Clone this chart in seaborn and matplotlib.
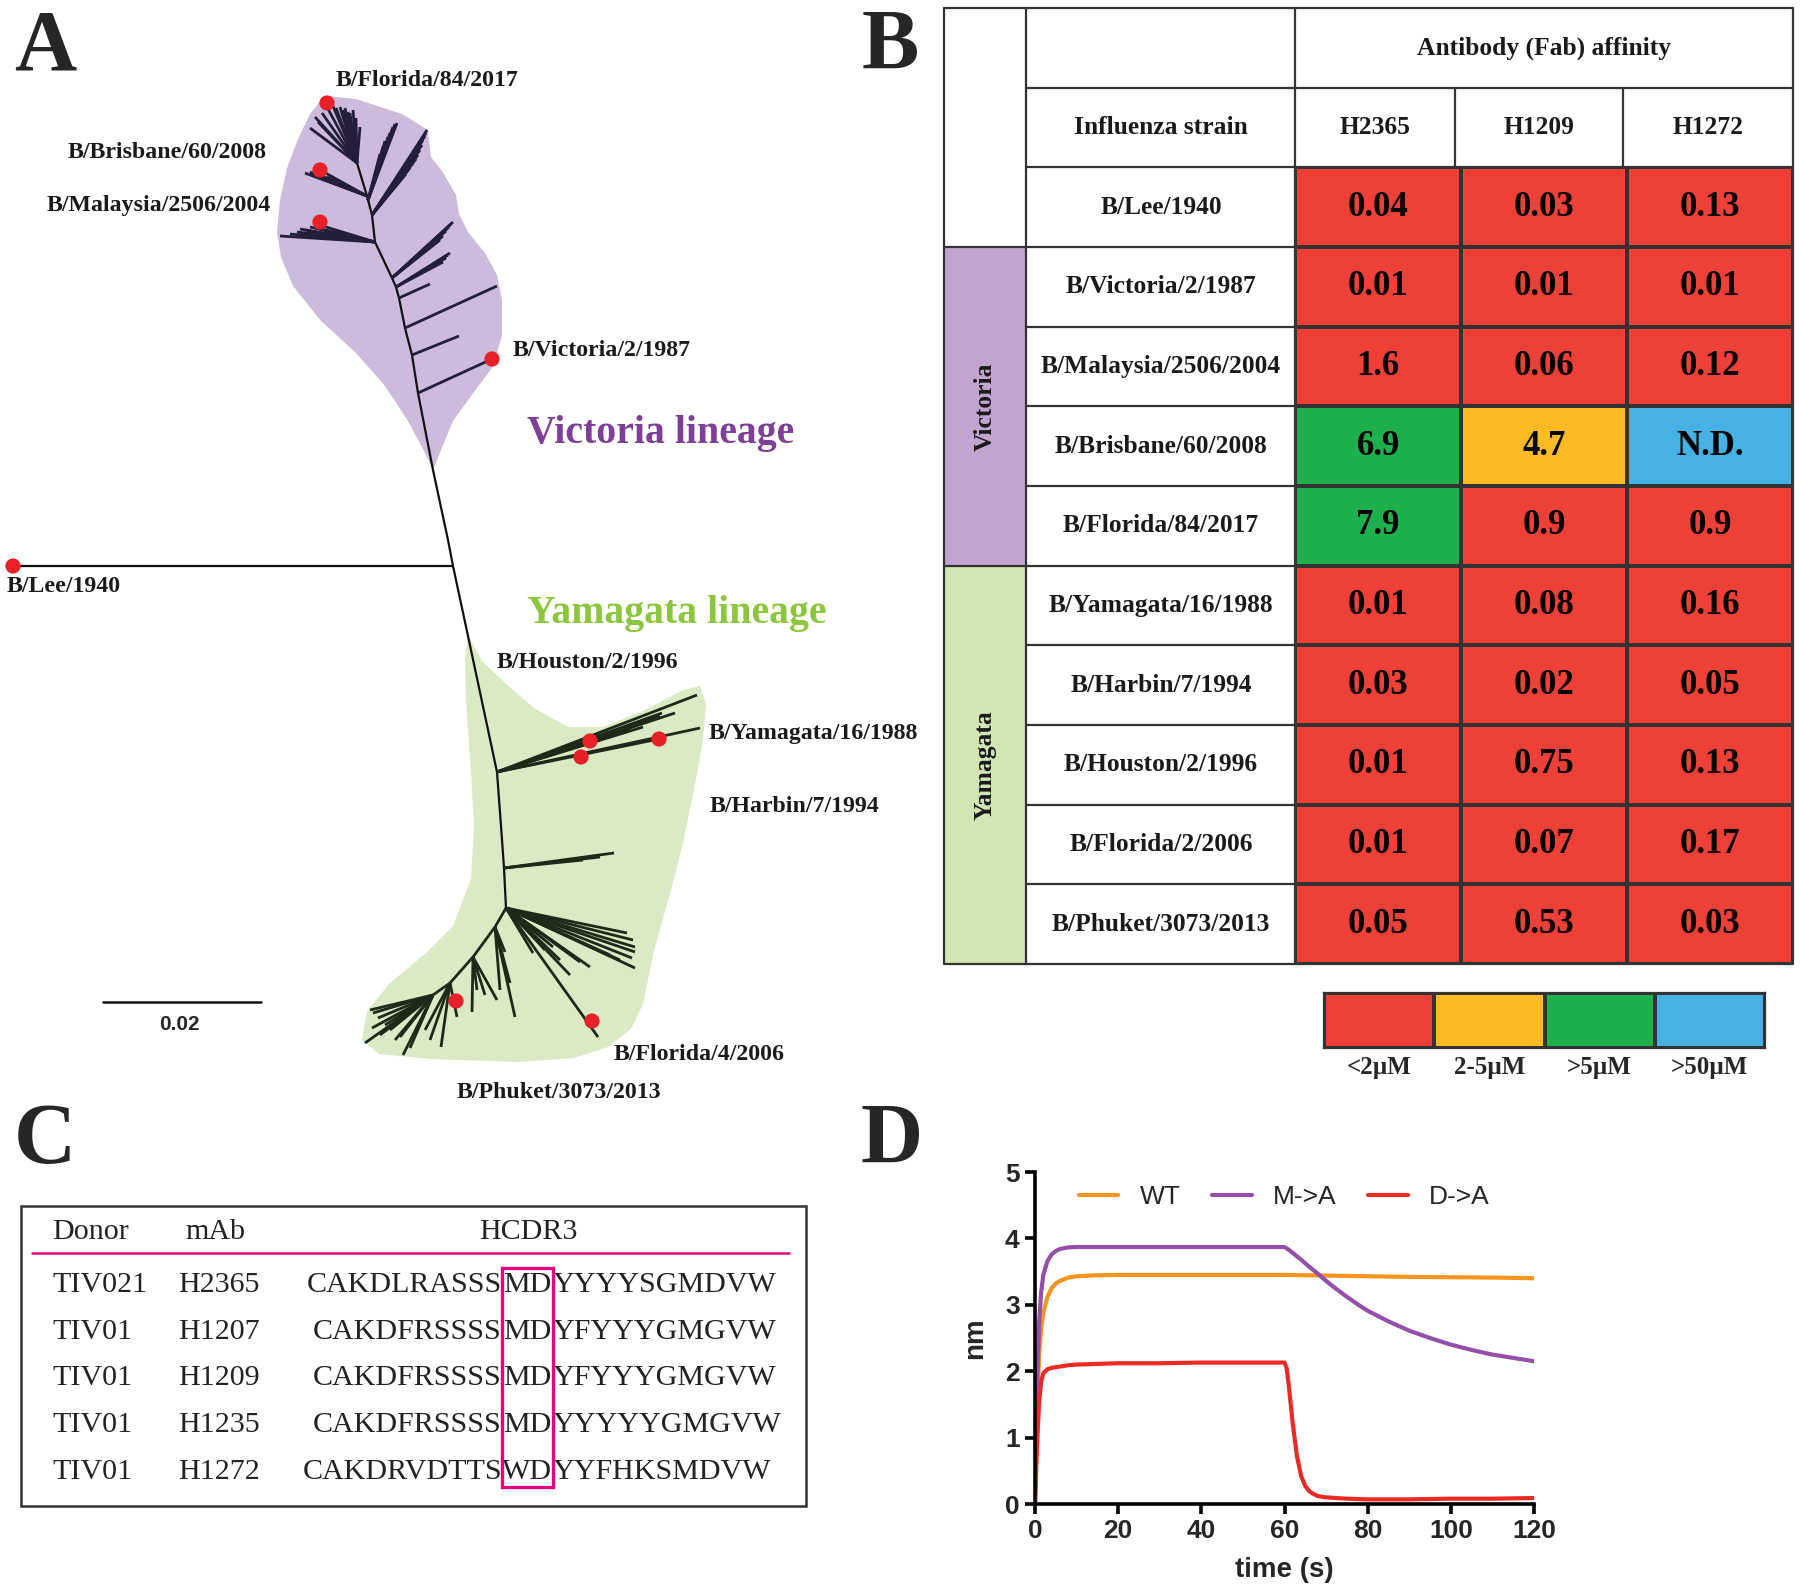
import numpy as np
import pandas as pd
import matplotlib
matplotlib.use("Agg")
import matplotlib.pyplot as plt
import seaborn as sns
from matplotlib.collections import LineCollection
from matplotlib.colors import ListedColormap
from matplotlib.patches import Polygon, Rectangle

# ---------------- data ----------------
# Panel A: tree (figure pixel coordinates of the drawing)
trunk_vic = [(453, 566), (448, 540), (433, 470), (418, 393), (412, 355), (405, 328), (399, 298),
             (396, 287), (392, 278), (375, 242), (372, 215), (367, 196), (357, 163)]
trunk_yam = [(453, 566), (468, 636), (497, 772), (501, 826), (504, 868), (506, 908)]
lee_branch = [(453, 566), (13, 566)]
yam_arm = [(506, 908), (495, 927), (473, 957), (450, 983), (433, 995), (370, 1010)]
vic_fans = [
    ((418, 393), [(492, 359)]),
    ((412, 355), [(459, 336)]),
    ((405, 328), [(497, 286)]),
    ((399, 298), [(430, 284)]),
    ((396, 287), [(450, 253), (448, 255), (446, 258), (443, 262)]),
    ((392, 278), [(453, 222), (451, 224), (449, 227), (446, 231), (443, 236), (440, 240)]),
    ((375, 242), [(280, 236), (290, 234), (297, 232), (300, 229), (305, 230), (310, 227), (313, 223),
                  (316, 228), (320, 229), (325, 231), (330, 233), (335, 236), (300, 234), (308, 232)]),
    ((372, 215), [(427, 130), (426, 133), (425, 136), (423, 140), (422, 145), (420, 150), (418, 155),
                  (416, 159), (413, 163), (410, 168), (406, 174)]),
    ((367, 196), [(305, 173), (310, 172), (315, 174), (320, 170), (322, 176), (327, 177), (332, 180),
                  (337, 182), (312, 175)]),
    ((368, 200), [(397, 123), (395, 124), (393, 127), (392, 130), (390, 133), (388, 137), (385, 141),
                  (383, 147), (380, 154)]),
    ((357, 163), [(310, 128), (315, 117), (318, 122), (322, 113), (327, 107), (333, 106), (336, 108),
                  (340, 107), (343, 110), (345, 108), (348, 112), (350, 113), (353, 110), (356, 118), (360, 127)]),
]
yam_fans = [
    ((497, 772), [(697, 695), (700, 728), (662, 713), (660, 716), (655, 718), (643, 727), (630, 730),
                  (659, 739), (675, 713)]),
    ((504, 868), [(614, 853), (583, 860), (600, 857)]),
    ((433, 995), [(373, 1013), (365, 1043), (403, 1055), (400, 1037), (420, 1023), (378, 1018),
                  (385, 1025), (390, 1030), (395, 1040), (410, 1048), (380, 1035), (372, 1028)]),
    ((450, 983), [(441, 1047), (457, 1017), (430, 1040), (425, 1030)]),
    ((473, 957), [(472, 1012), (477, 990), (485, 995), (497, 1000)]),
    ((495, 927), [(505, 952), (510, 983), (515, 1017), (500, 990)]),
    ((506, 908), [(627, 933), (633, 940), (635, 947), (635, 952), (632, 958), (635, 968), (620, 960),
                  (610, 955), (590, 967), (580, 962), (598, 1037), (553, 947), (533, 953), (560, 960),
                  (570, 975), (545, 950)]),
]
vic_blob = [(327, 96), (356, 99), (402, 114), (428, 130), (431, 157), (442, 171), (456, 195), (459, 214),
            (468, 232), (485, 253), (497, 275), (502, 300), (502, 336), (492, 368), (471, 396), (453, 421),
            (441, 450), (433, 470), (425, 453), (408, 421), (385, 386), (356, 353), (321, 321), (293, 286),
            (281, 257), (277, 232), (280, 200), (287, 168), (298, 139), (310, 114), (321, 100)]
yam_blob = [(468, 635), (482, 661), (505, 683), (534, 708), (568, 727), (603, 727), (643, 711), (683, 690),
            (700, 686), (706, 704), (703, 740), (694, 790), (683, 843), (671, 890), (654, 951), (643, 1004),
            (631, 1029), (608, 1047), (574, 1058), (517, 1062), (431, 1059), (379, 1054), (362, 1040),
            (367, 1011), (390, 983), (425, 954), (453, 926), (471, 879), (474, 826), (471, 772), (466, 701), (465, 658)]
dot_x = [327, 320, 320, 492, 13, 590, 581, 659, 456, 592]
dot_y = [103, 170, 222, 359, 566, 741, 757, 739, 1001, 1021]

# Panel B: affinity table
strains = ["B/Lee/1940", "B/Victoria/2/1987", "B/Malaysia/2506/2004", "B/Brisbane/60/2008",
           "B/Florida/84/2017", "B/Yamagata/16/1988", "B/Harbin/7/1994", "B/Houston/2/1996",
           "B/Florida/2/2006", "B/Phuket/3073/2013"]
antibodies = ["H2365", "H1209", "H1272"]
H2365 = ["0.04", "0.01", "1.6", "6.9", "7.9", "0.01", "0.03", "0.01", "0.01", "0.05"]
H1209 = ["0.03", "0.01", "0.06", "4.7", "0.9", "0.08", "0.02", "0.75", "0.07", "0.53"]
H1272 = ["0.13", "0.01", "0.12", "N.D.", "0.9", "0.16", "0.05", "0.13", "0.17", "0.03"]
legend_labels = ["<2µM", "2-5µM", ">5µM", ">50µM"]

# Panel C: HCDR3 sequences
donors = ["TIV021", "TIV01", "TIV01", "TIV01", "TIV01"]
mabs = ["H2365", "H1207", "H1209", "H1235", "H1272"]
seq_pre = ["CAKDLRASSS", "CAKDFRSSSS", "CAKDFRSSSS", "CAKDFRSSSS", "CAKDRVDTTS"]
seq_mid = ["MD", "MD", "MD", "MD", "WD"]
seq_post = ["YYYYSGMDVW", "YFYYYGMGVW", "YFYYYGMGVW", "YYYYYGMGVW", "YYFHKSMDVW"]

# Panel D: BLI kinetics
t_wt = [0, 0.5, 1, 1.5, 2, 3, 4, 5, 6, 8, 10, 15, 20, 30, 40, 50, 60, 70, 80, 90, 100, 110, 120]
y_wt = [0, 1.45, 2.25, 2.65, 2.88, 3.12, 3.25, 3.32, 3.36, 3.41, 3.43, 3.445, 3.45, 3.45, 3.45, 3.45,
        3.45, 3.44, 3.43, 3.42, 3.415, 3.41, 3.40]
t_ma = [0, 0.5, 1, 1.5, 2, 3, 4, 5, 6, 8, 10, 20, 40, 60, 61, 62, 64, 66, 68, 70, 72, 75, 78, 80,
        85, 90, 95, 100, 105, 110, 115, 120]
y_ma = [0, 1.8, 2.75, 3.2, 3.45, 3.66, 3.76, 3.81, 3.84, 3.865, 3.87, 3.87, 3.87, 3.87, 3.83, 3.78,
        3.68, 3.57, 3.47, 3.36, 3.26, 3.12, 2.99, 2.91, 2.75, 2.61, 2.50, 2.40, 2.32, 2.25, 2.20, 2.15]
t_da = [0, 0.5, 1, 1.5, 2, 3, 4, 6, 8, 10, 15, 20, 30, 40, 50, 60, 60.5, 61, 61.5, 62, 63, 64, 65,
        66, 67, 68, 70, 75, 80, 90, 100, 110, 120]
y_da = [0, 0.9, 1.55, 1.85, 1.97, 2.03, 2.05, 2.07, 2.09, 2.10, 2.11, 2.12, 2.12, 2.13, 2.13, 2.13,
        2.05, 1.8, 1.5, 1.2, 0.72, 0.42, 0.27, 0.19, 0.15, 0.12, 0.10, 0.08, 0.07, 0.07, 0.08, 0.08, 0.09]

# ---------------- styling ----------------
sns.set_style("white")
SERIF = ["Liberation Serif", "DejaVu Serif"]
SANS = ["Liberation Sans Narrow", "Liberation Sans", "DejaVu Sans"]
plt.rcParams["font.family"] = SERIF

W, H = 1800, 1593
fig = plt.figure(figsize=(9, 7.965), dpi=200)
bg = fig.add_axes([0, 0, 1, 1])

# ---------------- Panel A ----------------
bg.add_patch(Polygon(vic_blob, closed=True, facecolor="#CDBBDD", edgecolor="none", zorder=1))
bg.add_patch(Polygon(yam_blob, closed=True, facecolor="#DAEAC5", edgecolor="none", zorder=1))

def fan_segments(fans):
    segs = []
    for hub, tips in fans:
        for tp in tips:
            segs.append([hub, tp])
    return segs

bg.add_collection(LineCollection([trunk_vic, trunk_yam, lee_branch], colors="#111111",
                                 linewidths=0.8, zorder=2))
bg.add_collection(LineCollection(fan_segments(vic_fans), colors="#231F3A", linewidths=1.0, zorder=2))
bg.add_collection(LineCollection([yam_arm] + fan_segments(yam_fans), colors="#1E2A18",
                                 linewidths=1.0, zorder=2))
sns.scatterplot(x=dot_x, y=dot_y, ax=bg, color="#E8202A", s=30, edgecolor="none", zorder=5)

lab_kw = dict(fontsize=8.6, fontweight="bold", family=SERIF, color="#1a1a1a", va="center")
bg.text(336, 81, "B/Florida/84/2017", ha="left", **lab_kw)
bg.text(267, 152, "B/Brisbane/60/2008", ha="right", **lab_kw)
bg.text(271, 205, "B/Malaysia/2506/2004", ha="right", **lab_kw)
bg.text(513, 351, "B/Victoria/2/1987", ha="left", **lab_kw)
bg.text(7, 586, "B/Lee/1940", ha="left", **lab_kw)
bg.text(497, 662, "B/Houston/2/1996", ha="left", **lab_kw)
bg.text(709, 733, "B/Yamagata/16/1988", ha="left", **lab_kw)
bg.text(710, 807, "B/Harbin/7/1994", ha="left", **lab_kw)
bg.text(614, 1054, "B/Florida/4/2006", ha="left", **lab_kw)
bg.text(457, 1093, "B/Phuket/3073/2013", ha="left", **lab_kw)
bg.text(661, 434, "Victoria lineage", ha="center", va="center", fontsize=14.3, fontweight="bold",
        color="#7E3F98", family=SERIF)
bg.text(677, 613, "Yamagata lineage", ha="center", va="center", fontsize=14.3, fontweight="bold",
        color="#8CC63F", family=SERIF)
bg.plot([103, 261], [1002, 1002], color="#111111", lw=0.9)
bg.text(179, 1025, "0.02", ha="center", va="center", fontsize=7.5, fontweight="bold",
        family=["Liberation Sans", "DejaVu Sans"])

# panel letters
for lx, ly, L in [(14, 70, "A"), (862, 69, "B"), (14, 1163, "C"), (860, 1163, "D")]:
    bg.text(lx, ly, L, ha="left", va="baseline", fontsize=31, fontweight="bold", family=SERIF)

# ---------------- Panel B ----------------
def category(v):
    if v == "N.D.":
        return 3
    f = float(v)
    if f < 2:
        return 0
    if f <= 5:
        return 1
    return 2

labels = np.array([H2365, H1209, H1272]).T
cats = np.vectorize(category)(labels).astype(float)
cmap = ListedColormap(["#EE4037", "#FDBB23", "#1EB04C", "#46B2E4"])
table_df = pd.DataFrame(cats, index=strains, columns=antibodies)

tx0, tx1, ty0, ty1 = 944, 1793, 8, 964
cx = [944, 1026, 1295, 1455, 1623, 1793]
ry = [ty0 + k * (ty1 - ty0) / 12 for k in range(13)]

axh = fig.add_axes([1295 / W, 1 - ry[12] / H, (1793 - 1295) / W, (ry[12] - ry[2]) / H])
sns.heatmap(table_df, annot=labels, fmt="", cmap=cmap, vmin=-0.5, vmax=3.5, cbar=False,
            linewidths=0.8, linecolor="#333333", xticklabels=False, yticklabels=False, ax=axh,
            annot_kws=dict(fontsize=12.5, fontweight="bold", family=SERIF, color="black"))
axh.set_xlabel("")
axh.set_ylabel("")

bg.add_patch(Rectangle((944, ry[3]), 1026 - 944, ry[7] - ry[3], facecolor="#C2A4D0", edgecolor="none", zorder=1))
bg.add_patch(Rectangle((944, ry[7]), 1026 - 944, ry[12] - ry[7], facecolor="#D1E6B4", edgecolor="none", zorder=1))
line_kw = dict(color="#333333", lw=0.8, zorder=3)
bg.plot([tx0, tx1, tx1, tx0, tx0], [ty0, ty0, ty1, ty1, ty0], **line_kw)
bg.plot([1026, 1026], [ty0, ty1], **line_kw)
bg.plot([1295, 1295], [ty0, ty1], **line_kw)
bg.plot([1455, 1455], [ry[1], ty1], **line_kw)
bg.plot([1623, 1623], [ry[1], ty1], **line_kw)
bg.plot([1026, tx1], [ry[1], ry[1]], **line_kw)
for k in range(2, 12):
    x0 = 944 if k in (3, 7) else 1026
    bg.plot([x0, tx1], [ry[k], ry[k]], **line_kw)

hdr_kw = dict(fontsize=9.2, fontweight="bold", family=SERIF, ha="center", va="center", color="#1a1a1a")
bg.text(1544, (ry[0] + ry[1]) / 2, "Antibody (Fab) affinity", **hdr_kw)
bg.text(1161, (ry[1] + ry[2]) / 2, "Influenza strain", **hdr_kw)
for i, ab in enumerate(antibodies):
    bg.text((cx[i + 2] + cx[i + 3]) / 2, (ry[1] + ry[2]) / 2, ab, **hdr_kw)
for i, s in enumerate(strains):
    bg.text(1161, (ry[i + 2] + ry[i + 3]) / 2, s, **hdr_kw)
bg.text(985, (ry[3] + ry[7]) / 2, "Victoria", rotation=90, **hdr_kw)
bg.text(985, (ry[7] + ry[12]) / 2, "Yamagata", rotation=90, **hdr_kw)

# legend strip
axl = fig.add_axes([1324 / W, 1 - 1048 / H, (1765 - 1324) / W, 55 / H])
leg_df = pd.DataFrame([[0, 1, 2, 3]], columns=legend_labels)
sns.heatmap(leg_df, cmap=cmap, vmin=-0.5, vmax=3.5, cbar=False, linewidths=0.8,
            linecolor="#333333", yticklabels=False, ax=axl)
for sp in axl.spines.values():
    sp.set_visible(True)
    sp.set_color("#333333")
    sp.set_linewidth(0.8)
axl.tick_params(axis="x", length=0, pad=3, labelrotation=0)
for tl in axl.get_xticklabels():
    tl.set_fontsize(9)
    tl.set_fontweight("bold")
    tl.set_family(SERIF)

# ---------------- Panel C ----------------
bg.add_patch(Rectangle((21, 1206), 806 - 21, 1506 - 1206, facecolor="none", edgecolor="#333333",
                       lw=0.9, zorder=3))
c_kw = dict(fontsize=10.8, family=SERIF, va="center", color="#222222")
bg.text(52, 1232, "Donor", ha="left", **c_kw)
bg.text(185, 1232, "mAb", ha="left", **c_kw)
bg.text(528, 1232, "HCDR3", ha="center", **c_kw)
bg.plot([32, 789], [1253, 1253], color="#E6007E", lw=0.9)
row_y = [1285, 1332, 1378, 1425, 1472]
for i in range(len(donors)):
    y = row_y[i]
    bg.text(52, y, donors[i], ha="left", **c_kw)
    bg.text(178, y, mabs[i], ha="left", **c_kw)
    bg.text(502, y, seq_pre[i], ha="right", **c_kw)
    bg.text(527.5, y, seq_mid[i], ha="center", **c_kw)
    bg.text(553, y, seq_post[i], ha="left", **c_kw)
bg.add_patch(Rectangle((502, 1268), 51, 1487 - 1268, facecolor="none", edgecolor="#E6007E", lw=1.2, zorder=4))

bg.set_xlim(0, W)
bg.set_ylim(H, 0)
bg.axis("off")

# ---------------- Panel D ----------------
axd = fig.add_axes([1035 / W, 1 - 1504 / H, (1534 - 1035) / W, (1504 - 1172) / H])
kin = pd.concat([
    pd.DataFrame({"time": t_wt, "nm": y_wt, "mutant": "WT"}),
    pd.DataFrame({"time": t_ma, "nm": y_ma, "mutant": "M->A"}),
    pd.DataFrame({"time": t_da, "nm": y_da, "mutant": "D->A"}),
], ignore_index=True)
pal = {"WT": "#F7941D", "M->A": "#9450A8", "D->A": "#EC2A24"}
sns.lineplot(data=kin, x="time", y="nm", hue="mutant", hue_order=["WT", "M->A", "D->A"],
             palette=pal, linewidth=1.5, ax=axd, estimator=None, sort=False)
axd.set_xlim(0, 120)
axd.set_ylim(0, 5)
axd.set_xticks([0, 20, 40, 60, 80, 100, 120])
axd.set_yticks([0, 1, 2, 3, 4, 5])
sns.despine(ax=axd)
for sp in ["left", "bottom"]:
    axd.spines[sp].set_linewidth(1.3)
    axd.spines[sp].set_color("black")
axd.tick_params(axis="both", which="major", length=3.5, width=1.3, color="black", pad=2,
                left=True, bottom=True)
for tl in axd.get_xticklabels() + axd.get_yticklabels():
    tl.set_fontsize(9.5)
    tl.set_fontweight("bold")
    tl.set_family(SANS)
axd.set_xlabel("time (s)", fontsize=10, fontweight="bold", family=SANS, labelpad=5)
axd.set_ylabel("nm", fontsize=10, fontweight="bold", family=SANS, labelpad=6)
axd.legend(loc="center left", bbox_to_anchor=(0.04, 0.925), ncol=3, frameon=False,
           handlelength=1.5, columnspacing=1.2, handletextpad=0.8,
           prop=dict(family=SANS, size=9.5))
axd.set_facecolor("none")

fig.savefig("out.png", dpi=200)
